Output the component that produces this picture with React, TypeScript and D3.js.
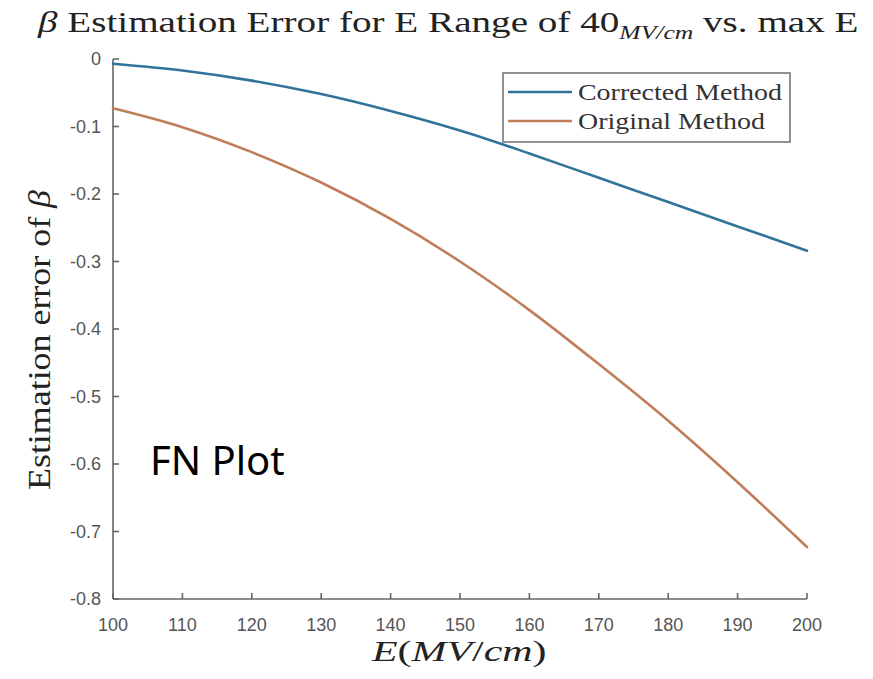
import React, { useEffect, useRef } from "react";
import * as d3 from "d3";

// Maximum field E (MV/cm) at which the estimate is evaluated
const fieldE = [100, 110, 120, 130, 140, 150, 160, 170, 180, 190, 200];
// Estimation error of beta for each method
const correctedErr = [-0.007, -0.017, -0.032, -0.052, -0.077, -0.106, -0.140, -0.176, -0.212, -0.248, -0.284];
const originalErr = [-0.073, -0.101, -0.138, -0.183, -0.237, -0.300, -0.372, -0.452, -0.536, -0.627, -0.723];

const seriesNames = ["Corrected Method", "Original Method"];
const seriesColors = ["#31739a", "#c07d5a"];

const xTicks = [100, 110, 120, 130, 140, 150, 160, 170, 180, 190, 200];
const yTicks = [0, -0.1, -0.2, -0.3, -0.4, -0.5, -0.6, -0.7, -0.8];
const yTickLabels = ["0", "-0.1", "-0.2", "-0.3", "-0.4", "-0.5", "-0.6", "-0.7", "-0.8"];

const W = 873;
const H = 679;
const SERIF = "'Liberation Serif', 'DejaVu Serif', serif";
const SANS = "'Liberation Sans', Arial, sans-serif";

export default function App() {
  const ref = useRef<SVGSVGElement>(null);

  useEffect(() => {
    const svg = d3.select(ref.current);
    svg.selectAll("*").remove();

    const plot = { left: 113, right: 807, top: 59, bottom: 599 };
    const x = d3.scaleLinear().domain([100, 200]).range([plot.left, plot.right]);
    const y = d3.scaleLinear().domain([-0.8, 0]).range([plot.bottom, plot.top]);

    svg.append("rect").attr("width", W).attr("height", H).attr("fill", "#ffffff");

    // stretch a text group horizontally so it spans `target` pixels
    const fit = (g: any, tx: number, ty: number, target: number, rot = 0) => {
      const w = g.node().getBBox().width;
      const k = target / w;
      g.attr("transform", `translate(${tx},${ty})${rot ? ` rotate(${rot})` : ""} scale(${k},1)`);
    };

    // title
    const titleG = svg.append("g");
    const title = titleG.append("text").attr("font-family", SERIF).attr("font-size", 29).attr("fill", "#222");
    title.append("tspan").attr("font-style", "italic").text("β");
    title.append("tspan").text(" Estimation Error for E Range of 40");
    title.append("tspan").attr("font-style", "italic").attr("font-size", 19).attr("dy", 7).text("MV/cm");
    title.append("tspan").attr("dy", -7).text(" vs. max E");
    fit(titleG, 38, 32, 822);

    // axes
    const axisColor = "#666";
    const ax = svg.append("g").attr("stroke", axisColor).attr("stroke-width", 1.6).attr("fill", "none");
    ax.append("line").attr("x1", plot.left).attr("x2", plot.left).attr("y1", plot.top).attr("y2", plot.bottom);
    ax.append("line").attr("x1", plot.left).attr("x2", plot.right).attr("y1", plot.bottom).attr("y2", plot.bottom);
    xTicks.forEach((t) => {
      ax.append("line").attr("x1", x(t)).attr("x2", x(t)).attr("y1", plot.bottom).attr("y2", plot.bottom - 6);
    });
    yTicks.forEach((t) => {
      ax.append("line").attr("x1", plot.left).attr("x2", plot.left + 6).attr("y1", y(t)).attr("y2", y(t));
    });

    svg.append("g")
      .selectAll("text")
      .data(xTicks)
      .join("text")
      .attr("x", (d) => x(d))
      .attr("y", 631)
      .attr("text-anchor", "middle")
      .attr("font-family", SANS)
      .attr("font-size", 18)
      .attr("fill", "#555")
      .text((d) => String(d));

    svg.append("g")
      .selectAll("text")
      .data(yTicks)
      .join("text")
      .attr("x", 101)
      .attr("y", (d) => y(d) + 6)
      .attr("text-anchor", "end")
      .attr("font-family", SANS)
      .attr("font-size", 18)
      .attr("fill", "#555")
      .text((_, i) => yTickLabels[i]);

    // axis labels
    const xl = svg.append("g");
    const xt = xl.append("text").attr("font-family", SERIF).attr("font-size", 30).attr("fill", "#222");
    xt.append("tspan").attr("font-style", "italic").text("E");
    xt.append("tspan").text("(");
    xt.append("tspan").attr("font-style", "italic").text("MV");
    xt.append("tspan").text("/");
    xt.append("tspan").attr("font-style", "italic").text("cm");
    xt.append("tspan").text(")");
    fit(xl, 372, 661, 176);

    const yl = svg.append("g");
    const yt = yl.append("text").attr("font-family", SERIF).attr("font-size", 32).attr("fill", "#222");
    yt.append("tspan").text("Estimation error of ");
    yt.append("tspan").attr("font-style", "italic").text("β");
    fit(yl, 50, 490, 300, -90);

    // curves
    const line = d3.line<number>()
      .x((_, i) => x(fieldE[i]))
      .y((d) => y(d))
      .curve(d3.curveMonotoneX);
    [correctedErr, originalErr].forEach((s, i) => {
      svg.append("path")
        .attr("d", line(s))
        .attr("fill", "none")
        .attr("stroke", seriesColors[i])
        .attr("stroke-width", 2.6)
        .attr("stroke-linecap", "round");
    });

    // legend
    const lg = svg.append("g");
    lg.append("rect")
      .attr("x", 503).attr("y", 73).attr("width", 287).attr("height", 69)
      .attr("fill", "#fff").attr("stroke", "#777").attr("stroke-width", 1.6);
    const rowsY = [92, 121];
    seriesNames.forEach((name, i) => {
      lg.append("line")
        .attr("x1", 508).attr("x2", 572).attr("y1", rowsY[i]).attr("y2", rowsY[i])
        .attr("stroke", seriesColors[i]).attr("stroke-width", 2.6);
    });
    const legendTexts = seriesNames.map((name) => {
      const g = lg.append("g");
      g.append("text").attr("font-family", SERIF).attr("font-size", 24).attr("fill", "#333").text(name);
      return g;
    });
    const k = 204 / (legendTexts[0].node() as SVGGElement).getBBox().width;
    legendTexts.forEach((g, i) => {
      g.attr("transform", `translate(578,${rowsY[i] + 8}) scale(${k},1)`);
    });

    // annotation
    svg.append("text")
      .attr("x", 150)
      .attr("y", 475)
      .attr("font-family", "'Noto Sans', 'Open Sans', sans-serif")
      .attr("font-size", 40)
      .attr("fill", "#000")
      .text("FN Plot");
  }, []);

  return (
    <svg
      ref={ref}
      width={W}
      height={H}
      style={{ position: "absolute", left: 0, top: 0, display: "block" }}
    />
  );
}
